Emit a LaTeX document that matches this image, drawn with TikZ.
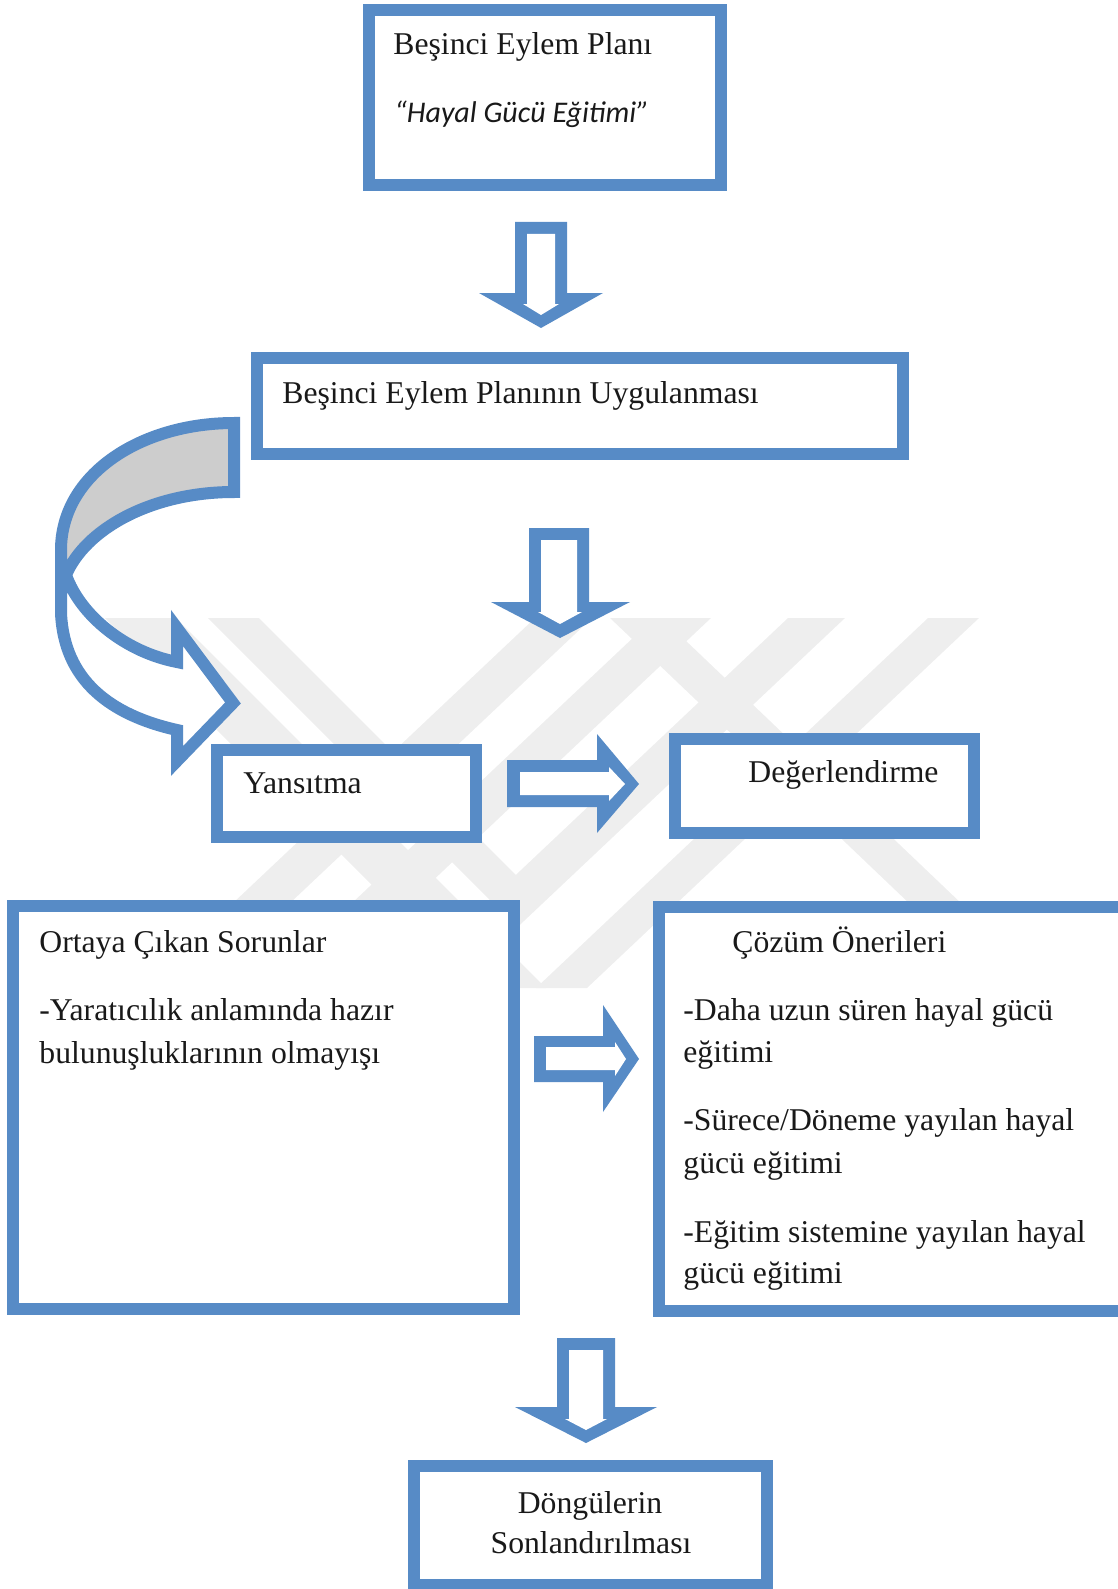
\documentclass[tikz,border=0pt]{standalone}
\usepackage{fontspec}
\setmainfont{Liberation Serif}
\newfontfamily\calfont{Carlito}
\usetikzlibrary{fit}
\definecolor{bl}{RGB}{87,139,198}
\definecolor{wm}{RGB}{238,238,238}
\definecolor{cg}{RGB}{205,205,205}
\tikzset{
  bbox/.style={draw=bl, line width=6pt, fill=white, inner sep=0pt, outer sep=0pt},
  txt/.style={inner sep=0pt, anchor=base west, font=\fontsize{15.85}{21}\selectfont, text=black!90},
  ctxt/.style={txt, anchor=base},
  wmband/.style={fill=wm},
  arrowout/.style={fill=bl},
  arrowin/.style={fill=white},
  curvestroke/.style={draw=bl, line width=6pt, line join=miter, miter limit=10},
}
\begin{document}
\begin{tikzpicture}[x=0.5pt,y=-0.5pt]
\useasboundingbox (0,0) rectangle (1118,1589);
\clip (0,0) rectangle (1118,1589);

% watermark
\begin{scope}
\clip (0,618) rectangle (1118,988);
\fill[wmband] (105,618) -- (176,618) -- (546,988) -- (475,988) -- cycle;
\fill[wmband] (208,618) -- (259,618) -- (541,900) -- (490,900) -- cycle;
\fill[wmband] (610,618) -- (662,618) -- (1050,988) -- (998,988) -- cycle;
\fill[wmband] (535,618) -- (592,618) -- (200,988) -- (143,988) -- cycle;
\fill[wmband] (654,618) -- (711,618) -- (319,988) -- (262,988) -- cycle;
\fill[wmband] (788,618) -- (845,618) -- (453,988) -- (396,988) -- cycle;
\fill[wmband] (928,618) -- (979,618) -- (587,988) -- (536,988) -- cycle;
\end{scope}

% curved arrow
\fill[cg] (234,423) .. controls (140,423) and (61,475) .. (61,550) -- (61,575) -- (66,575)
  .. controls (85,530) and (150,492) .. (234,492) -- cycle;
\fill[white] (61,550) -- (61,613) .. controls (64,680) and (110,715) .. (177,730) -- (177,761)
  -- (233,703) -- (177,628) -- (177,662) .. controls (125,652) and (80,615) .. (66,575) -- cycle;
\draw[curvestroke] (234,423) .. controls (140,423) and (61,475) .. (61,550) -- (61,613)
  .. controls (64,680) and (110,715) .. (177,730) -- (177,761) -- (233,703) -- (177,628)
  -- (177,662) .. controls (125,652) and (80,615) .. (66,575)
  .. controls (85,530) and (150,492) .. (234,492) -- cycle;

% boxes
\node[bbox, fit={(369,10)(721,185)}] (b1) {};
\node[bbox, fit={(257,358)(903,454)}] (b2) {};
\node[bbox, fit={(217,750)(476,837)}] (yan) {};
\node[bbox, fit={(675,739)(974,833)}] (deg) {};
\node[bbox, fit={(13,906)(514,1309)}] (ort) {};
\node[bbox, fit={(659,907)(1124,1311)}] (coz) {};
\node[bbox, fit={(414,1466)(767,1585)}] (don) {};

% block arrows (down)
\fill[arrowout] (515,222) -- (567,222) -- (567,293) -- (603,293) -- (541,328) -- (479,293) -- (515,293) -- cycle;
\fill[arrowin] (527,234) -- (555,234) -- (555,304) -- (559,304) -- (541,315) -- (523,304) -- (527,304) -- cycle;

\fill[arrowout] (529,528) -- (589,528) -- (589,602) -- (630,602) -- (560,638) -- (491,602) -- (529,602) -- cycle;
\fill[arrowin] (541,540) -- (577,540) -- (577,612) -- (582,612) -- (560,624) -- (538,612) -- (541,612) -- cycle;

\fill[arrowout] (557,1338) -- (615,1338) -- (615,1407) -- (657,1407) -- (586,1443) -- (515,1407) -- (557,1407) -- cycle;
\fill[arrowin] (569,1350) -- (603,1350) -- (603,1419) -- (607,1419) -- (586,1430) -- (565,1419) -- (569,1419) -- cycle;

% block arrows (right)
\fill[arrowout] (507,760) -- (597,760) -- (597,734) -- (639,784) -- (597,833) -- (597,807) -- (507,807) -- cycle;
\fill[arrowin] (520,772) -- (609,772) -- (609,767) -- (625,784) -- (609,801) -- (609,795) -- (520,795) -- cycle;

\fill[arrowout] (534,1036) -- (603,1036) -- (603,1005) -- (639,1059) -- (603,1112) -- (603,1082) -- (534,1082) -- cycle;
\fill[arrowin] (546,1047) -- (615,1047) -- (615,1042) -- (626,1059) -- (615,1076) -- (615,1070) -- (546,1070) -- cycle;

% texts
\node[txt] (t1) at (393,55) {Beşinci Eylem Planı};
\node[txt, font=\calfont\itshape\fontsize{15}{17}\selectfont] (t1b) at (394,123) {“Hayal Gücü Eğitimi”};
\node[txt] (t2) at (282,403) {Beşinci Eylem Planının Uygulanması};
\node[txt] (t3) at (243,793) {Yansıtma};
\node[txt] (t4) at (748,782) {Değerlendirme};
\node[txt] (t5) at (39,952) {Ortaya Çıkan Sorunlar};
\node[txt] (t5a) at (39,1020) {-Yaratıcılık anlamında hazır};
\node[txt] (t5b) at (39,1063) {bulunuşluklarının olmayışı};
\node[txt] (t6) at (732,952) {Çözüm Önerileri};
\node[txt] (t6a) at (683,1020) {-Daha uzun süren hayal gücü};
\node[txt] (t6b) at (683,1062) {eğitimi};
\node[txt] (t6c) at (683,1130) {-Sürece/Döneme yayılan hayal};
\node[txt] (t6d) at (683,1173) {gücü eğitimi};
\node[txt] (t6e) at (683,1242) {-Eğitim sistemine yayılan hayal};
\node[txt] (t6f) at (683,1283) {gücü eğitimi};
\node[ctxt] (t7) at (590,1513) {Döngülerin};
\node[ctxt] (t7b) at (591,1553) {Sonlandırılması};
\end{tikzpicture}
\end{document}
